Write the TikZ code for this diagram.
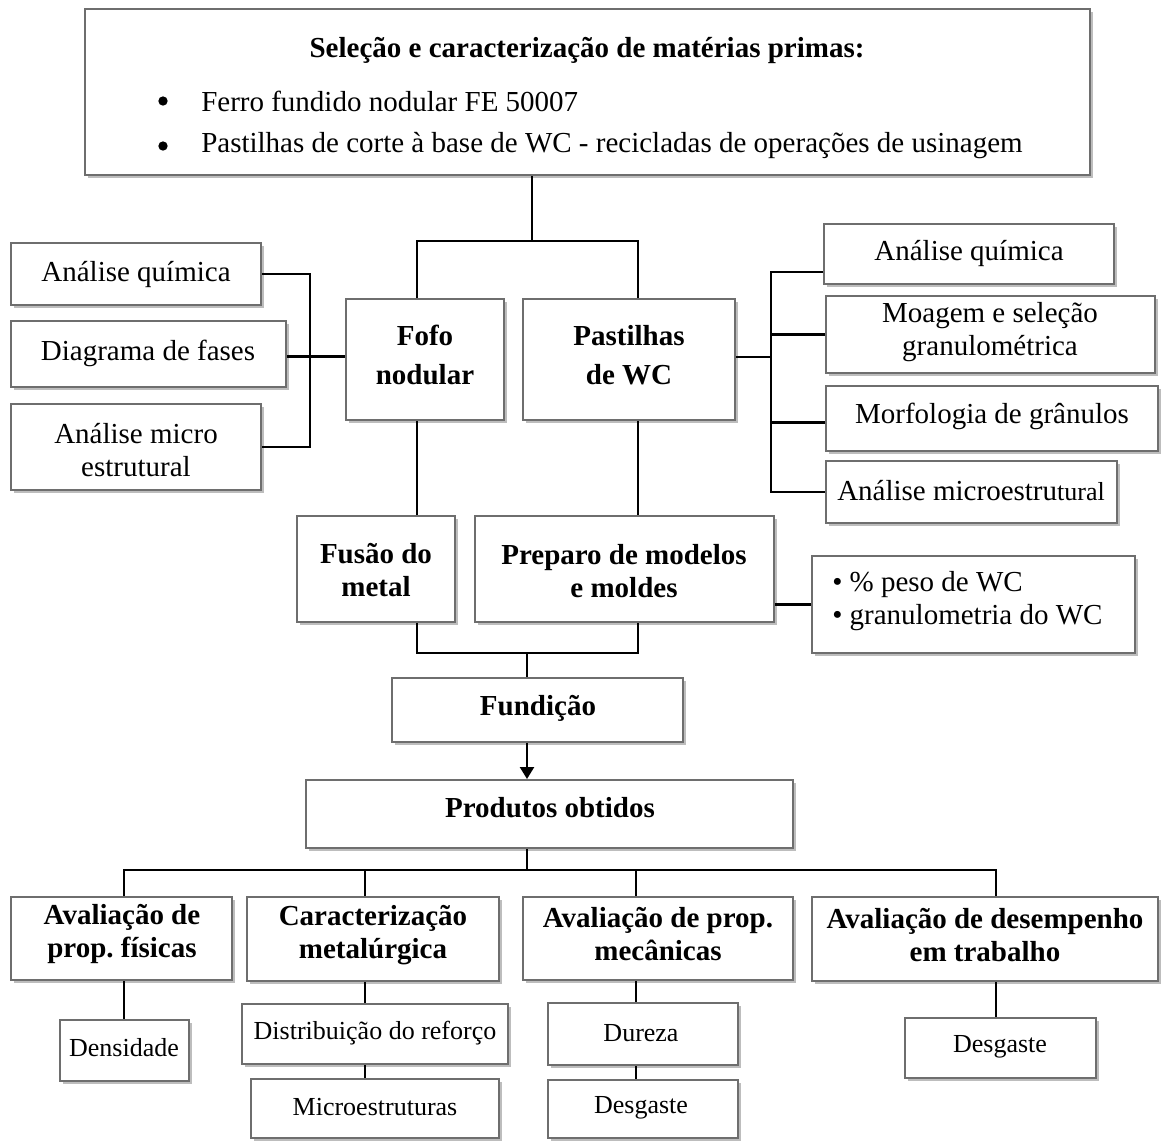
\documentclass[tikz,border=0pt]{standalone}
\usepackage{fontspec}
\setmainfont{Liberation Serif}
\usetikzlibrary{fit,shadows,arrows.meta}
\definecolor{boxgray}{HTML}{6E6E6E}
\definecolor{shadowgray}{HTML}{BDBDBD}
\frenchspacing
\tikzset{
  box/.style={draw=boxgray, line width=1.5pt, fill=white, inner sep=0pt,
    drop shadow={shadow xshift=2.6pt, shadow yshift=-2.6pt, fill=shadowgray, opacity=1}},
  conn/.style={line width=1.8pt, draw=black},
  reg/.style={font=\fontsize{21.75pt}{24.75pt}\selectfont, align=center, inner sep=0pt},
  bld/.style={font=\bfseries\fontsize{21.75pt}{24.75pt}\selectfont, align=center, inner sep=0pt},
  bldw/.style={font=\bfseries\fontsize{21.75pt}{29.5pt}\selectfont, align=center, inner sep=0pt},
  sml/.style={font=\fontsize{19.5pt}{22pt}\selectfont, align=center, inner sep=0pt},
  dot/.style={circle, fill=black, inner sep=0pt, minimum size=7pt},
}
\begin{document}
\begin{tikzpicture}[x=0.75pt,y=-0.75pt]
\useasboundingbox (0,0) rectangle (1163,1140);
% top box
\node[box, fit={(85,9) (1090,175)}] (top) {};
\node[bld] (title) at (587,50) {Seleção e caracterização de matérias primas:};
\node[dot] (d1) at (163,101) {};
\node[reg, anchor=west] (t1) at (201,101) {Ferro fundido nodular FE 50007};
\node[dot] (d2) at (163,146) {};
\node[reg, anchor=west] (t2) at (201,146) {Pastilhas de corte à base de WC - recicladas de operações de usinagem};
% left boxes
\node[box, fit={(11,243) (261,305)}] (aq1) {};
\node[reg] (aq1t) at (136,274) {Análise química};
\node[box, fit={(11,321) (286,387)}] (dg) {};
\node[reg] (dgt) at (148,353) {Diagrama de fases};
\node[box, fit={(11,404) (261,490)}] (am1) {};
\node[reg] (am1t) at (136,450) {Análise micro\\estrutural};
% main
\node[box, fit={(346,299) (504,420)}] (fofo) {};
\node[bldw] (fofot) at (425,355) {Fofo\\nodular};
\node[box, fit={(523,299) (735,420)}] (past) {};
\node[bldw] (pastt) at (629,355) {Pastilhas\\de WC};
% right boxes
\node[box, fit={(824,224) (1114,284)}] (aq2) {};
\node[reg] (aq2t) at (969,253) {Análise química};
\node[box, fit={(826,296) (1155,373)}] (mo) {};
\node[reg] (mot) at (990,332) {Moagem e seleção\\granulométrica};
\node[box, fit={(826,386) (1158,451)}] (mf) {};
\node[reg] (mft) at (992,416) {Morfologia de grânulos};
\node[box, fit={(826,461) (1117,523)}] (am2) {};
\node[reg] (am2t) at (971,491) {Análise microestru{\fontsize{19.5pt}{22pt}\selectfont tural}};
% process
\node[box, fit={(297,516) (455,622)}] (fus) {};
\node[bld] (fust) at (376,570) {Fusão do\\metal};
\node[box, fit={(475,516) (774,622)}] (prep) {};
\node[bld] (prept) at (624,571) {Preparo de modelos\\e moldes};
\node[box, fit={(812,556) (1135,653)}] (pct) {};
\node[reg, align=left, anchor=west] (pctt) at (832,601) {• \% peso de WC\\• granulometria do WC};
\node[box, fit={(392,678) (683,742)}] (fund) {};
\node[bld] (fundt) at (538,708) {Fundição};
\node[box, fit={(306,780) (793,848)}] (prod) {};
\node[bld] (prodt) at (550,808) {Produtos obtidos};
% bottom row
\node[box, fit={(11,897) (232,980)}] (b1) {};
\node[bld] (b1t) at (122,934) {Avaliação de\\prop. físicas};
\node[box, fit={(247,897) (499,981)}] (b2) {};
\node[bld] (b2t) at (373,935) {Caracterização\\metalúrgica};
\node[box, fit={(523,897) (793,980)}] (b3) {};
\node[bld] (b3t) at (658,934) {Avaliação de prop.\\mecânicas};
\node[box, fit={(812,897) (1158,981)}] (b4) {};
\node[bld] (b4t) at (985,935) {Avaliação de desempenho\\em trabalho};
% leaves
\node[box, fit={(60,1020) (189,1081)}] (dens) {};
\node[sml] (denst) at (124,1048) {Densidade};
\node[box, fit={(242,1004) (508,1064)}] (dist) {};
\node[sml] (distt) at (375,1033) {Distribuição do reforço};
\node[box, fit={(251,1079) (499,1138)}] (micro) {};
\node[sml] (microt) at (375,1107) {Microestruturas};
\node[box, fit={(548,1003) (738,1065)}] (dur) {};
\node[sml] (durt) at (641,1033) {Dureza};
\node[box, fit={(548,1080) (738,1138)}] (des1) {};
\node[sml] (des1t) at (641,1108) {Desgaste};
\node[box, fit={(905,1018) (1096,1078)}] (des2) {};
\node[sml] (des2t) at (1000,1047) {Desgaste};
% coordinates
\coordinate (j1) at (532,241);
\coordinate (fl) at (417,241);
\coordinate (pl) at (638,241);
\coordinate (lv) at (310,273);
\coordinate (rv) at (771,272);
\coordinate (jb) at (527,653);
\coordinate (c1) at (124,870);
\coordinate (c2) at (365,870);
\coordinate (c3) at (636,870);
\coordinate (c4) at (996,870);
% connectors top
\draw[conn] (top.south -| j1) -- (j1);
\draw[conn] (fofo.north -| fl) -- (fl) -- (pl) -- (past.north -| pl);
% left cluster
\draw[conn] (aq1.east) -- (aq1.east -| lv) -- (am1.east -| lv) -- (am1.east);
\draw[conn] ([yshift=-2pt]dg.east) -- ([yshift=-2pt]dg.east -| fofo.west);
% right cluster
\draw[conn] ([yshift=2pt]past.east) -- ([yshift=2pt]past.east -| rv);
\draw[conn] (aq2.west |- rv) -- (rv) -- (rv |- am2.west) -- (am2.west);
\draw[conn] (mo.west) -- (mo.west -| rv);
\draw[conn] ([yshift=-3pt]mf.west) -- ([yshift=-3pt]mf.west -| rv);
% process
\draw[conn] (fofo.south -| fl) -- (fus.north -| fl);
\draw[conn] (past.south -| pl) -- (prep.north -| pl);
\draw[conn] (pct.west) -- (pct.west -| prep.east);
\draw[conn] (fus.south -| fl) -- (fl |- jb) -- (pl |- jb) -- (prep.south -| pl);
\draw[conn] (jb) -- (fund.north -| jb);
\draw[conn, -{Triangle[length=9pt, width=10.5pt]}] (fund.south -| jb) -- (prod.north -| jb);
% distribution
\draw[conn] (prod.south -| jb) -- (jb |- c1);
\draw[conn] (b1.north -| c1) -- (c1) -- (c4) -- (b4.north -| c4);
\draw[conn] (c2) -- (b2.north -| c2);
\draw[conn] (c3) -- (b3.north -| c3);
% leaves
\draw[conn] (b1.south -| c1) -- (dens.north -| c1);
\draw[conn] (b2.south -| c2) -- (dist.north -| c2);
\draw[conn] (dist.south -| c2) -- (micro.north -| c2);
\draw[conn] (b3.south -| c3) -- (dur.north -| c3);
\draw[conn] (dur.south -| c3) -- (des1.north -| c3);
\draw[conn] (b4.south -| c4) -- (des2.north -| c4);
\end{tikzpicture}
\end{document}
